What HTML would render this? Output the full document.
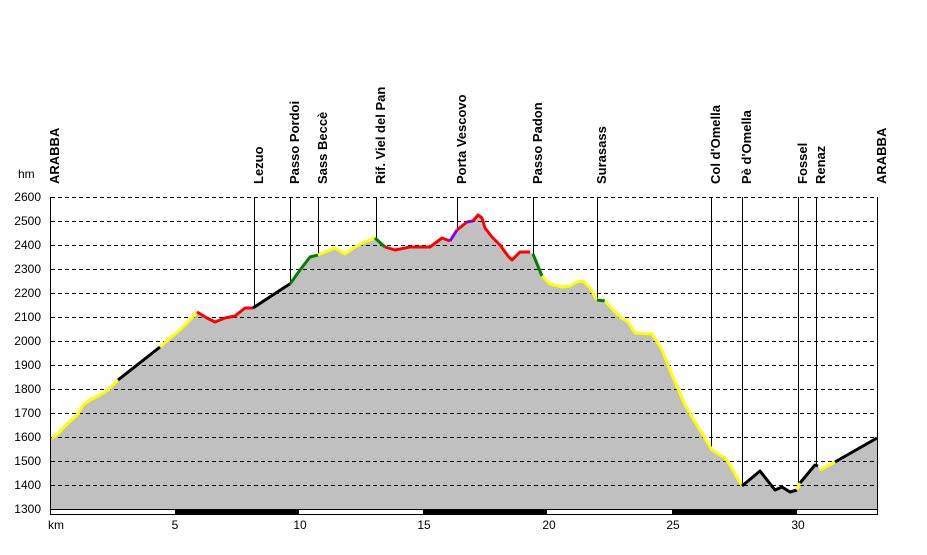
<!DOCTYPE html>
<html><head><meta charset="utf-8"><style>
body{margin:0;background:#fff}
svg text{font-family:"Liberation Sans",Arial,sans-serif;font-size:12px;fill:#000}
svg text.lb{font-weight:bold;font-size:13px}
</style></head><body>
<svg width="927" height="550" viewBox="0 0 927 550" xmlns="http://www.w3.org/2000/svg">
<polygon fill="#c0c0c0" points="51,510 51,438 58,434 63,428 78,414 83,405 90,400 100,395 108,390 118,380 160,347 170,338 180,330 192,318 197,312 207,318 215,322 225,318 235,316 245,308 253,308 285,287 290,284 300,270 310,257 318,255 335,248 345,254 355,247 365,242 375,238 385,247 395,250 410,247 425,247 430,247 442,238 450,241 457,230 467,222 473,221 478,215 482,218 485,228 492,237 500,245 508,256 512,260 520,252 530,252 533,254 542,276 550,284 562,287 570,286 577,282 583,281 590,288 597,300 605,301 620,317 628,322 635,333 652,334 662,350 672,375 685,405 700,430 712,450 725,458 730,465 742,486 760,471 775,490 782,487 790,492 797,490 800,483 815,465 818,466 820,470 835,462 877,438 877,510"/>
<g stroke="#000" stroke-width="1" stroke-dasharray="4,3">
<line x1="51" x2="877" y1="197.5" y2="197.5"/><line x1="51" x2="877" y1="221.5" y2="221.5"/><line x1="51" x2="877" y1="245.5" y2="245.5"/><line x1="51" x2="877" y1="269.5" y2="269.5"/><line x1="51" x2="877" y1="293.5" y2="293.5"/><line x1="51" x2="877" y1="317.5" y2="317.5"/><line x1="51" x2="877" y1="341.5" y2="341.5"/><line x1="51" x2="877" y1="365.5" y2="365.5"/><line x1="51" x2="877" y1="389.5" y2="389.5"/><line x1="51" x2="877" y1="413.5" y2="413.5"/><line x1="51" x2="877" y1="437.5" y2="437.5"/><line x1="51" x2="877" y1="461.5" y2="461.5"/><line x1="51" x2="877" y1="485.5" y2="485.5"/>
</g>
<g stroke="#000" stroke-width="1">
<line x1="254.5" x2="254.5" y1="197" y2="308"/><line x1="290.5" x2="290.5" y1="197" y2="284"/><line x1="318.5" x2="318.5" y1="197" y2="255"/><line x1="376.5" x2="376.5" y1="197" y2="238"/><line x1="457.5" x2="457.5" y1="197" y2="230"/><line x1="533.5" x2="533.5" y1="197" y2="254"/><line x1="597.5" x2="597.5" y1="197" y2="300"/><line x1="711.5" x2="711.5" y1="197" y2="450"/><line x1="742.5" x2="742.5" y1="197" y2="486"/><line x1="798.5" x2="798.5" y1="197" y2="490"/><line x1="816.5" x2="816.5" y1="197" y2="466"/>
</g>
<g fill="none" stroke-width="3" stroke-linejoin="round">
<polyline stroke="#ffff00" points="52,438 58,434 63,428 78,414 83,405 90,400 100,395 108,390 118,380"/>
<polyline stroke="#000" points="118,380 160,347"/>
<polyline stroke="#ffff00" points="160,347 170,338 180,330 192,318 197,312"/>
<polyline stroke="#ff0000" points="197,312 207,318 215,322 225,318 235,316 245,308 253,308"/>
<polyline stroke="#000" points="253,308 285,287 290,284"/>
<polyline stroke="#008000" points="290,284 300,270 310,257 318,255"/>
<polyline stroke="#ffff00" points="318,255 335,248 345,254 355,247 365,242 375,238"/>
<polyline stroke="#008000" points="375,238 385,247"/>
<polyline stroke="#ff0000" points="385,247 395,250 410,247 425,247 430,247 442,238 450,241"/>
<polyline stroke="#8000ff" points="450,241 457,230"/>
<polyline stroke="#ff0000" points="457,230 467,222"/>
<polyline stroke="#8000ff" points="467,222 473,221"/>
<polyline stroke="#ff0000" points="473,221 478,215 482,218 485,228 492,237 500,245 508,256 512,260 520,252 530,252"/>
<polyline stroke="#008000" points="533,254 542,276"/>
<polyline stroke="#ffff00" points="542,276 550,284 562,287 570,286 577,282 583,281 590,288 597,300"/>
<polyline stroke="#008000" points="597,300 605,301"/>
<polyline stroke="#ffff00" points="605,301 620,317 628,322 635,333 652,334 662,350 672,375 685,405 700,430 712,450 725,458 730,465 742,486"/>
<polyline stroke="#000" points="742,486 760,471 775,490 782,487 790,492 797,490"/>
<polyline stroke="#ffff00" points="797,490 800,483"/>
<polyline stroke="#000" points="800,483 815,465 818,466"/>
<polyline stroke="#ffff00" points="820,470 835,462"/>
<polyline stroke="#000" points="835,462 877,438"/>
</g>
<rect x="51" y="510" width="826" height="4" fill="#fff"/>
<rect x="175" y="510" width="124" height="4" fill="#000"/>
<rect x="423" y="510" width="124" height="4" fill="#000"/>
<rect x="672" y="510" width="125" height="4" fill="#000"/>
<line x1="51" x2="877" y1="514.5" y2="514.5" stroke="#000"/>
<line x1="51" x2="877" y1="509.5" y2="509.5" stroke="#000"/>
<line x1="50.5" x2="50.5" y1="197" y2="515" stroke="#000"/>
<line x1="877.5" x2="877.5" y1="197" y2="515" stroke="#000"/>
<g text-anchor="end">
<text x="41" y="201">2600</text><text x="41" y="225">2500</text><text x="41" y="249">2400</text><text x="41" y="273">2300</text><text x="41" y="297">2200</text><text x="41" y="321">2100</text><text x="41" y="345">2000</text><text x="41" y="369">1900</text><text x="41" y="393">1800</text><text x="41" y="417">1700</text><text x="41" y="441">1600</text><text x="41" y="465">1500</text><text x="41" y="489">1400</text><text x="41" y="513">1300</text>
</g>
<text x="18" y="178">hm</text>
<text x="48" y="529">km</text>
<g text-anchor="middle"><text x="175" y="529">5</text><text x="300" y="529">10</text><text x="424" y="529">15</text><text x="549" y="529">20</text><text x="673" y="529">25</text><text x="798" y="529">30</text></g>
<g>
<text class="lb" transform="translate(59,184) rotate(-90)">ARABBA</text>
<text class="lb" transform="translate(263,184) rotate(-90)">Lezuo</text>
<text class="lb" transform="translate(299,184) rotate(-90)">Passo Pordoi</text>
<text class="lb" transform="translate(327,184) rotate(-90)">Sass Beccè</text>
<text class="lb" transform="translate(385,184) rotate(-90)">Rif. Viel del Pan</text>
<text class="lb" transform="translate(466,184) rotate(-90)">Porta Vescovo</text>
<text class="lb" transform="translate(542,184) rotate(-90)">Passo Padon</text>
<text class="lb" transform="translate(606,184) rotate(-90)">Surasass</text>
<text class="lb" transform="translate(720,184) rotate(-90)">Col d'Omella</text>
<text class="lb" transform="translate(751,184) rotate(-90)">Pè d'Omella</text>
<text class="lb" transform="translate(807,184) rotate(-90)">Fossel</text>
<text class="lb" transform="translate(825,184) rotate(-90)">Renaz</text>
<text class="lb" transform="translate(886,184) rotate(-90)">ARABBA</text>
</g>
</svg>
</body></html>
